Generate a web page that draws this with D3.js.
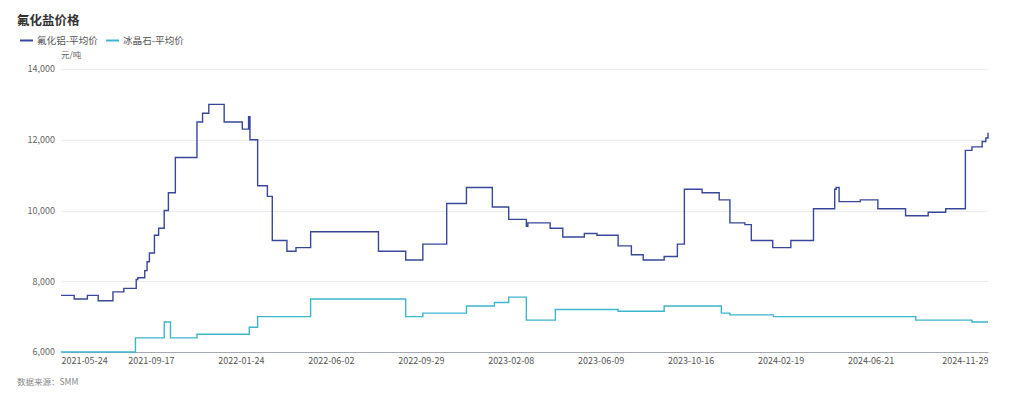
<!DOCTYPE html>
<html>
<head>
<meta charset="utf-8">
<script src="https://cdn.jsdelivr.net/npm/d3@7"></script>
<style>
  body { margin: 0; background: #fff; }
  svg text { font-family: "Noto Sans CJK SC", "Noto Sans", sans-serif; }
</style>
</head>
<body>
<div id="chart"></div>
<script>
// 氟化铝-平均价 (change points, step line)
const alfDates = [
  "2021-05-24","2021-06-10","2021-06-27","2021-07-11","2021-07-30","2021-08-13","2021-08-29","2021-08-31",
  "2021-09-09","2021-09-12","2021-09-15","2021-09-22","2021-09-28","2021-10-06","2021-10-12","2021-10-22",
  "2021-11-22","2021-11-30","2021-12-09","2021-12-31","2022-01-26","2022-02-04","2022-02-06","2022-02-17",
  "2022-03-03","2022-03-10","2022-03-31","2022-04-13","2022-05-04","2022-08-04","2022-09-09","2022-10-02",
  "2022-11-06","2022-12-05","2023-01-12","2023-02-05","2023-03-01","2023-03-03","2023-04-02","2023-04-19",
  "2023-05-18","2023-06-04","2023-07-04","2023-07-23","2023-08-09","2023-09-08","2023-09-27","2023-10-07",
  "2023-11-01","2023-11-25","2023-12-10","2023-12-31","2024-01-09","2024-02-08","2024-03-04","2024-04-04",
  "2024-05-03","2024-05-05","2024-05-09","2024-06-07","2024-07-01","2024-08-08","2024-09-08","2024-10-02",
  "2024-10-29","2024-11-07","2024-11-21","2024-11-26","2024-11-29"
];
const alfPrices = [
  7600,7500,7600,7450,7700,7800,8050,8100,
  8300,8550,8800,9300,9500,10000,10500,11500,
  12500,12750,13000,12500,12300,12650,12000,10700,
  10400,9150,8850,8950,9400,8850,8600,9050,
  10200,10650,10100,9750,9550,9650,9500,9250,
  9350,9300,9000,8750,8600,8700,9050,10600,
  10500,10300,9650,9600,9150,8950,9150,10050,
  10600,10650,10250,10300,10050,9850,9950,10050,
  11700,11800,11950,12050,12200
];

// 冰晶石-平均价
const cryDates = [
  "2021-05-24","2021-08-28","2021-10-06","2021-10-15","2021-11-22","2022-02-05","2022-02-17","2022-05-04",
  "2022-09-09","2022-10-02","2022-12-05","2023-01-15","2023-02-05","2023-03-01","2023-04-09","2023-07-04",
  "2023-09-08","2023-11-28","2023-12-10","2024-02-09","2024-08-22","2024-11-07","2024-11-29"
];
const cryPrices = [
  6000,6400,6850,6400,6500,6700,7000,7500,
  7000,7100,7300,7400,7550,6900,7200,7150,
  7300,7100,7050,7000,6900,6850,6850
];

// x axis is a category axis (trading days): a label every 85 days, last label on last day
const tickDates = ["2021-05-24","2021-09-17","2022-01-24","2022-06-02","2022-09-29","2023-02-08",
  "2023-06-09","2023-10-16","2024-02-19","2024-06-21","2024-11-29"];
const labelStep = 85;
const lastIndex = 876;
const yTicks = [6000, 8000, 10000, 12000, 14000];

const seriesNames = ["氟化铝-平均价", "冰晶石-平均价"];
const colors = ["#38479a", "#3db6cd"];

const width = 1024, height = 399;
const margin = { top: 69, right: 36, bottom: 47, left: 61 };

const parse = d3.timeParse("%Y-%m-%d");

const svg = d3.select("#chart")
  .append("svg")
  .attr("width", width)
  .attr("height", height);

const xCat = d3.scaleLinear().domain([0, lastIndex]).range([margin.left, width - margin.right]);
const tickIndex = tickDates.map((d, i) => i < tickDates.length - 1 ? i * labelStep : lastIndex);
const x = d3.scaleTime()
  .domain(tickDates.map(parse))
  .range(tickIndex.map(xCat));

const y = d3.scaleLinear().domain([6000, 14000]).range([height - margin.bottom, margin.top]);

// gridlines
svg.append("g")
  .selectAll("line")
  .data(yTicks.slice(1))
  .enter()
  .append("line")
  .attr("x1", margin.left)
  .attr("x2", width - margin.right)
  .attr("y1", d => Math.round(y(d)) + 0.5)
  .attr("y2", d => Math.round(y(d)) + 0.5)
  .attr("stroke", "#ececec");

// y labels
const yAxis = d3.axisLeft(y).tickValues(yTicks).tickSize(0).tickPadding(6).tickFormat(d3.format(","));
svg.append("g")
  .attr("transform", `translate(${margin.left},0)`)
  .call(yAxis)
  .call(g => g.select(".domain").remove())
  .selectAll("text")
  .attr("fill", "#666")
  .attr("font-size", "9px");

// x axis
const xAxis = d3.axisBottom(x)
  .tickValues(tickDates.map(parse))
  .tickSize(0)
  .tickPadding(6)
  .tickFormat(d3.timeFormat("%Y-%m-%d"));
const gx = svg.append("g")
  .attr("transform", `translate(0,${height - margin.bottom})`)
  .call(xAxis);
gx.select(".domain").attr("stroke", "#a4a9b1").attr("stroke-width", 1.2);
gx.selectAll("text")
  .attr("fill", "#555")
  .attr("font-size", "9px")
  .attr("text-anchor", (d, i) => i === 0 ? "start" : (i === tickDates.length - 1 ? "end" : "middle"));

// lines
const line = d3.line()
  .x(d => x(d.date))
  .y(d => y(d.value))
  .curve(d3.curveStepAfter);

const series = [
  alfDates.map((d, i) => ({ date: parse(d), value: alfPrices[i] })),
  cryDates.map((d, i) => ({ date: parse(d), value: cryPrices[i] }))
];

series.forEach((s, i) => {
  svg.append("path")
    .datum(s)
    .attr("fill", "none")
    .attr("stroke", colors[i])
    .attr("stroke-width", 1.4)
    .attr("d", line);
});

// title
svg.append("text")
  .attr("x", 17)
  .attr("y", 25)
  .attr("font-size", "12.5px")
  .attr("font-weight", "bold")
  .attr("fill", "#333")
  .text("氟化盐价格");

// legend
const legendX = [20, 106];
seriesNames.forEach((name, i) => {
  svg.append("line")
    .attr("x1", legendX[i])
    .attr("x2", legendX[i] + 13)
    .attr("y1", 40.5)
    .attr("y2", 40.5)
    .attr("stroke", colors[i])
    .attr("stroke-width", 2);
  svg.append("text")
    .attr("x", legendX[i] + 17)
    .attr("y", 40.5)
    .attr("dy", "0.35em")
    .attr("font-size", "9.6px")
    .attr("fill", "#555")
    .text(name);
});

// unit
svg.append("text")
  .attr("x", 61)
  .attr("y", 55)
  .attr("dy", "0.35em")
  .attr("font-size", "8.5px")
  .attr("fill", "#666")
  .text("元/吨");

// source
svg.append("text")
  .attr("x", 17)
  .attr("y", 382)
  .attr("dy", "0.35em")
  .attr("font-size", "8.5px")
  .attr("fill", "#888")
  .text("数据来源：SMM");
</script>
</body>
</html>
